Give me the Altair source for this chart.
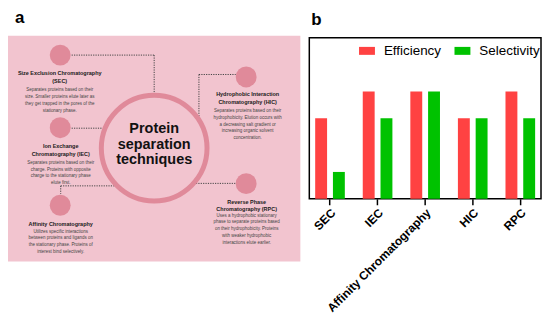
import altair as alt
import pandas as pd

FONT = "Liberation Sans"

# ---------------- Panel b data ----------------
categories = ["SEC", "IEC", "Affinity Chromatography", "HIC", "RPC"]
efficiency = [3, 4, 4, 3, 4]
selectivity = [1, 3, 4, 3, 3]
series = ["Efficiency", "Selectivity"]
series_colors = ["#FF4242", "#00C200"]

# ---------------- Panel a content ----------------
center_lines = ["Protein", "separation", "techniques"]
method_titles = [
    ["Size Exclusion Chromatography", "(SEC)"],
    ["Ion Exchange", "Chromatography (IEC)"],
    ["Affinity Chromatography"],
    ["Hydrophobic Interaction", "Chromatography (HIC)"],
    ["Reverse Phase", "Chromatography (RPC)"],
]
method_descs = [
    ["Separates proteins based on their", "size. Smaller proteins elute later as",
     "they get trapped in the pores of the", "stationary phase."],
    ["Separates proteins based on their", "charge. Proteins with opposite",
     "charge to the stationary phase", "elute first."],
    ["Utilizes specific interactions", "between proteins and ligands on",
     "the stationary phase. Proteins of", "interest bind selectively."],
    ["Separates proteins based on their", "hydrophobicity. Elution occurs with",
     "a decreasing salt gradient or", "increasing organic solvent", "concentration."],
    ["Uses a hydrophobic stationary", "phase to separate proteins based",
     "on their hydrophobicity. Proteins", "with weaker hydrophobic",
     "interactions elute earlier."],
]

# ---------------- Panel a layout (diagram coordinates) ----------------
node_x = [60.5, 60.5, 60.5, 247.5, 247.5]
node_y = [51.5, 124.5, 202.5, 73.5, 180.8]
text_x = [60, 61, 61, 249, 248]
title_y0 = [70, 143, 221, 91, 199]
desc_y0 = [87, 160, 229, 108, 213]
title_step = 7.6
desc_step = 6.75
center_x, center_y0, center_step = 155, 126, 15.5
ring_x, ring_y = [155], [145]
seg_x = [72, 155, 200, 200, 72, 61, 61, 197]
seg_x2 = [155, 155, 237, 200, 103, 116, 61, 237]
seg_y = [51.5, 51.5, 71, 71, 125, 183, 183, 180.5]
seg_y2 = [51.5, 90, 71, 118, 125, 183, 191, 180.5]
bg_box = {"x": [8], "x2": [302], "y": [32], "y2": [259]}

# build tables
title_rows, desc_rows = [], []
for i in range(len(method_titles)):
    for j, line in enumerate(method_titles[i]):
        title_rows.append({"x": text_x[i], "y": title_y0[i] + j * title_step, "t": line})
    for j, line in enumerate(method_descs[i]):
        desc_rows.append({"x": text_x[i], "y": desc_y0[i] + j * desc_step, "t": line})
center_rows = [{"x": center_x, "y": center_y0 + j * center_step, "t": l}
               for j, l in enumerate(center_lines)]

xs = alt.Scale(domain=[8, 302], nice=False, zero=False)
ys = alt.Scale(domain=[34, 312], nice=False, zero=False, reverse=True)
X = alt.X("x:Q", scale=xs, axis=None)
Y = alt.Y("y:Q", scale=ys, axis=None)

bg = alt.Chart(pd.DataFrame(bg_box)).mark_rect(color="#F2C4CF").encode(
    x=X, x2="x2:Q", y=Y, y2="y2:Q")
rules = alt.Chart(pd.DataFrame({"x": seg_x, "x2": seg_x2, "y": seg_y, "y2": seg_y2})).mark_rule(
    color="#444444", strokeWidth=1, strokeDash=[1.2, 1.2]).encode(x=X, x2="x2:Q", y=Y, y2="y2:Q")
ring = alt.Chart(pd.DataFrame({"x": ring_x, "y": ring_y})).mark_point(
    shape="circle", filled=False, size=11300, strokeWidth=5, color="#E08A9A", opacity=1).encode(x=X, y=Y)
nodes = alt.Chart(pd.DataFrame({"x": node_x, "y": node_y})).mark_circle(
    size=441, color="#E08A9A", opacity=1).encode(x=X, y=Y)
titles = alt.Chart(pd.DataFrame(title_rows)).mark_text(
    font=FONT, fontSize=5.5, fontWeight="bold", color="#1a1a1a", align="center", baseline="middle"
).encode(x=X, y=Y, text="t:N")
descs = alt.Chart(pd.DataFrame(desc_rows)).mark_text(
    font=FONT, fontSize=4.5, color="#444444", align="center", baseline="middle"
).encode(x=X, y=Y, text="t:N")
center = alt.Chart(pd.DataFrame(center_rows)).mark_text(
    font=FONT, fontSize=14.5, fontWeight="bold", color="#111111", align="center", baseline="middle"
).encode(x=X, y=Y, text="t:N")

panel_a = alt.layer(bg, rules, ring, nodes, titles, descs, center).properties(
    width=294, height=278, view=alt.ViewBackground(strokeOpacity=0),
    title=alt.Title("a", anchor="start", frame="group", font=FONT, fontSize=17,
                    fontWeight="bold", color="black", offset=9, dx=7))

# ---------------- Panel b ----------------
rows = []
for c, e, s in zip(categories, efficiency, selectivity):
    rows.append({"category": c, "series": "Efficiency", "value": e})
    rows.append({"category": c, "series": "Selectivity", "value": s})
df = pd.DataFrame(rows)

panel_b = alt.Chart(df).mark_bar().encode(
    x=alt.X("category:N", sort=categories,
            scale=alt.Scale(paddingInner=0.25, paddingOuter=0.06),
            axis=alt.Axis(title=None, labelAngle=-45, labelFont=FONT, labelFontSize=12,
                          labelFontWeight="bold", labelColor="black", tickColor="black",
                          tickWidth=1.5, tickSize=6, domain=False, grid=False, labelPadding=2)),
    xOffset=alt.XOffset("series:N", sort=series,
                        scale=alt.Scale(paddingInner=0.33, paddingOuter=0.17)),
    y=alt.Y("value:Q", scale=alt.Scale(domain=[0, 6], nice=False), axis=None),
    color=alt.Color("series:N", sort=series,
                    scale=alt.Scale(domain=series, range=series_colors),
                    legend=alt.Legend(title=None, orient="none", legendX=353, legendY=5,
                                      direction="horizontal", symbolType="M-1,-0.5H1V0.5H-1Z",
                                      symbolSize=256, symbolStrokeWidth=0, symbolOpacity=1,
                                      labelFont=FONT, labelFontSize=13.5, labelColor="black",
                                      labelOffset=9, columnPadding=13, padding=0)),
).properties(
    width=233, height=162,
    title=alt.Title("b", anchor="start", frame="group", font=FONT, fontSize=17,
                    fontWeight="bold", color="black", offset=9, dx=2),
    view=alt.ViewBackground(stroke="black", strokeWidth=1.5),
)

chart = alt.hconcat(panel_a, panel_b, spacing=8).properties(padding=0)
chart.save("out.html", embed_options={"renderer": "svg", "actions": False})
